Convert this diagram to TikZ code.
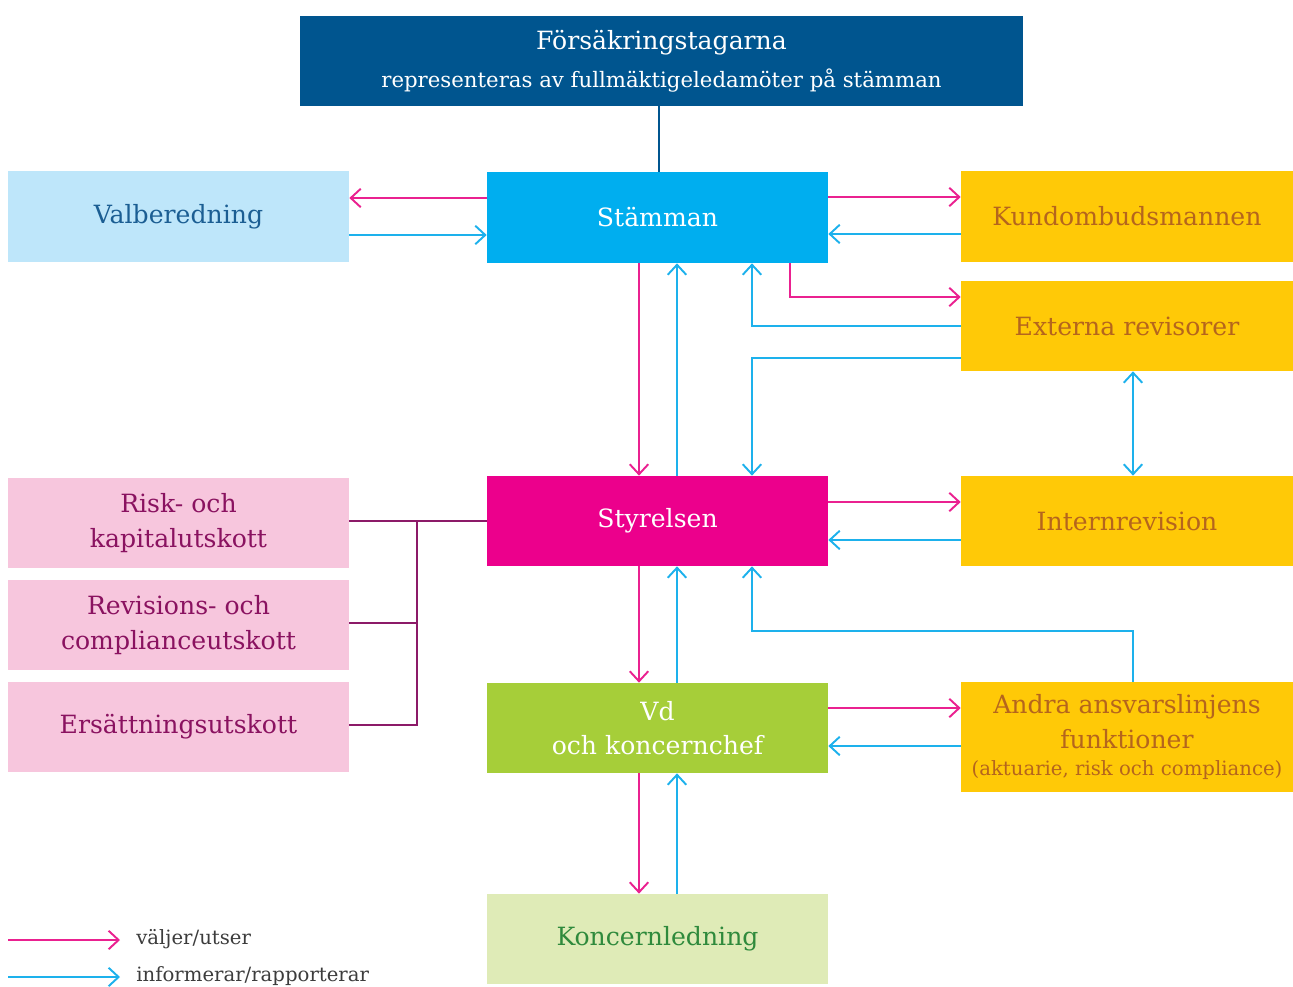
\documentclass[tikz,border=0pt]{standalone}
\usepackage{fontspec}
\setmainfont{DejaVu Serif}
\usepackage{tikz}
\usetikzlibrary{arrows.meta,calc}
\definecolor{ownblue}{HTML}{00558F}
\definecolor{meet}{HTML}{00AEEF}
\definecolor{valbg}{HTML}{BEE6FA}
\definecolor{valtx}{HTML}{1B5E93}
\definecolor{gold}{HTML}{FFC907}
\definecolor{goldtx}{HTML}{B5651D}
\definecolor{board}{HTML}{EC008C}
\definecolor{cmtbg}{HTML}{F7C6DD}
\definecolor{cmttx}{HTML}{8A1260}
\definecolor{plum}{HTML}{8C1A68}
\definecolor{ceo}{HTML}{A6CE39}
\definecolor{mgmtbg}{HTML}{DFEBB7}
\definecolor{mgmttx}{HTML}{2F8A3C}
\definecolor{selc}{HTML}{EA2190}
\definecolor{repc}{HTML}{1DB1EC}
\definecolor{legtx}{HTML}{3C3C3C}
\newcommand{\boxfs}{\fontsize{14.3}{19.5}\selectfont}
\newcommand{\subfs}{\fontsize{12.1}{14}\selectfont}
\newcommand{\notefs}{\fontsize{11.2}{13}\selectfont}
\newcommand{\legfs}{\fontsize{11.2}{13}\selectfont}
\tikzset{
  >={Straight Barb[length=2mm,width=3.7mm]},
  box/.style={rectangle,inner sep=2pt,minimum width=6.82cm,minimum height=1.8cm,align=center,font=\boxfs},
  cbox/.style={box,fill=meet,text=white},
  vbox/.style={box,fill=valbg,text=valtx},
  ybox/.style={box,fill=gold,text=goldtx,minimum width=6.64cm},
  mbox/.style={box,fill=board,text=white},
  pbox/.style={box,fill=cmtbg,text=cmttx},
  gbox/.style={box,fill=ceo,text=white},
  lgbox/.style={box,fill=mgmtbg,text=mgmttx},
  selarr/.style={->,draw=selc,line width=1.1pt},
  reparr/.style={->,draw=repc,line width=1.1pt},
  link/.style={draw=plum,line width=1.1pt},
  legtext/.style={font=\legfs,text=legtx,anchor=west,inner sep=0pt},
}
\begin{document}
\begin{tikzpicture}[x=0.02cm,y=-0.02cm]
\useasboundingbox (0,0) rectangle (1293,986);
% boxes
\node[box,fill=ownblue,text=white,minimum width=14.46cm] (owners) at (661.5,61)
  {Försäkringstagarna\\[2pt]{\subfs representeras av fullmäktigeledamöter på stämman}};
\node[cbox,minimum height=1.82cm] (stamman) at (657.5,217.5) {Stämman};
\node[vbox,minimum height=1.82cm] (valb) at (178.5,216.5) {Valberedning};
\node[ybox,minimum height=1.82cm] (kund) at (1127,216.5) {Kundombudsmannen};
\node[ybox] (ext) at (1127,326) {Externa revisorer};
\node[ybox] (intern) at (1127,521) {Internrevision};
\node[ybox,minimum height=2.2cm] (andra) at (1127,737)
  {Andra ansvarslinjens\\funktioner\\[-4pt]{\notefs (aktuarie, risk och compliance)}};
\node[mbox] (styr) at (657.5,521) {Styrelsen};
\node[gbox] (vd) at (657.5,728) {Vd\\och koncernchef};
\node[lgbox] (koncl) at (657.5,939) {Koncernledning};
\node[pbox] (risk) at (178.5,523) {Risk- och\\kapitalutskott};
\node[pbox] (revis) at (178.5,625) {Revisions- och\\complianceutskott};
\node[pbox] (ers) at (178.5,727) {Ersättningsutskott};
% connectors
\draw[draw=ownblue,line width=1.1pt] ([xshift=-0.05cm]owners.south) -- ([xshift=-0.05cm]owners.south |- stamman.north);
\draw[selarr] ([yshift=.39cm]stamman.west) -- ([yshift=.39cm]stamman.west -| valb.east);
\draw[reparr] ([yshift=-.37cm]valb.east) -- ([yshift=-.37cm]valb.east -| stamman.west);
\draw[selarr] ([yshift=.41cm]stamman.east) -- ([yshift=.41cm]stamman.east -| kund.west);
\draw[reparr] ([yshift=-.35cm]kund.west) -- ([yshift=-.35cm]kund.west -| stamman.east);
\draw[selarr] ([xshift=2.65cm]stamman.south) |- ([yshift=.58cm]ext.west);
\draw[reparr] (ext.west) -| ([xshift=1.89cm]stamman.south);
\draw[reparr] ([yshift=-.64cm]ext.west) -| ([xshift=1.89cm]styr.north);
\draw[selarr] ([xshift=-.37cm]stamman.south) -- ([xshift=-.37cm]styr.north);
\draw[reparr] ([xshift=.39cm]styr.north) -- ([xshift=.39cm]stamman.south);
\draw[reparr,<->] ([xshift=.12cm]ext.south) -- ([xshift=.12cm]intern.north);
\draw[selarr] ([yshift=.38cm]styr.east) -- ([yshift=.38cm]styr.east -| intern.west);
\draw[reparr] ([yshift=-.38cm]intern.west) -- ([yshift=-.38cm]intern.west -| styr.east);
\draw[selarr] ([xshift=-.37cm]styr.south) -- ([xshift=-.37cm]vd.north);
\draw[reparr] ([xshift=.39cm]vd.north) -- ([xshift=.39cm]styr.south);
\draw[reparr] ([xshift=.12cm]andra.north) -- ++(0,-51) -| ([xshift=1.89cm]styr.south);
\draw[selarr] ([yshift=.4cm]vd.east) -- ([yshift=.4cm]vd.east -| andra.west);
\draw[reparr] ([yshift=-.36cm]andra.west |- vd.east) -- ([yshift=-.36cm]vd.east);
\draw[selarr] ([xshift=-.37cm]vd.south) -- ([xshift=-.37cm]koncl.north);
\draw[reparr] ([xshift=.39cm]koncl.north) -- ([xshift=.39cm]vd.south);
% committees
\coordinate (hub) at (417,521);
\draw[link] (styr.west) -- (styr.west -| risk.east);
\draw[link] (hub) |- ([yshift=.04cm]revis.east);
\draw[link] (hub) |- ([yshift=.04cm]ers.east);
% legend
\node[legtext] (sellab) at (136,939) {väljer/utser};
\node[legtext] (replab) at (136,976) {informerar/rapporterar};
\coordinate (selstart) at (8,940);
\coordinate (repstart) at (8,977);
\draw[selarr] (selstart) -- (selstart -| 120,0);
\draw[reparr] (repstart) -- (repstart -| 120,0);
\end{tikzpicture}
\end{document}
